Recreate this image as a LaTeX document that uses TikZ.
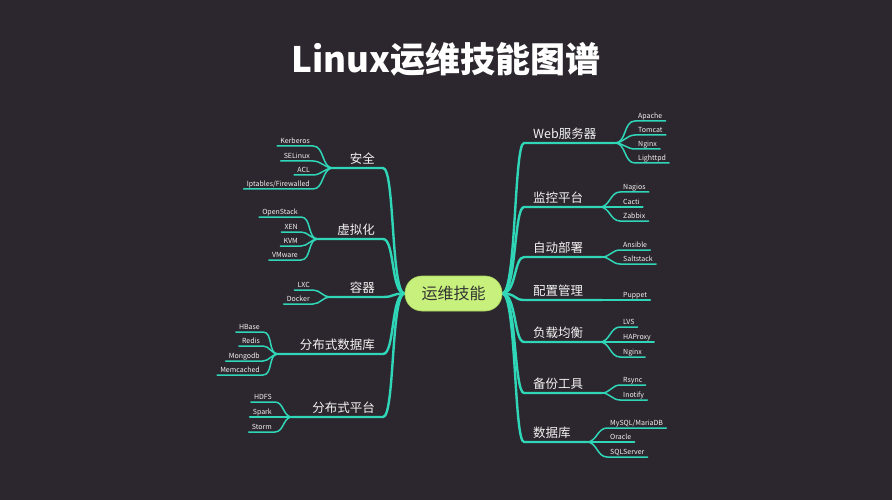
\documentclass[tikz,border=0pt]{standalone}
\usepackage{fontspec}
\setmainfont{Noto Sans CJK SC}
\definecolor{bgc}{HTML}{2C272E}
\definecolor{teal1}{HTML}{2FD6B8}
\definecolor{labelc}{HTML}{F2F2F2}
\definecolor{limec}{HTML}{C8F07C}
\definecolor{limed}{HTML}{A9D45E}
\definecolor{darkt}{HTML}{333333}
\pgfdeclarelayer{bg}
\pgfdeclarelayer{lines}
\pgfsetlayers{bg,lines,main}
\tikzset{
  mainline/.style={draw=teal1, line width=2.4pt, line cap=round},
  leafline/.style={draw=teal1, line width=1.5pt, line cap=round},
  lbl/.style={text=labelc, font=\fontsize{12.5}{14}\selectfont, inner xsep=0pt, inner ysep=2.5pt, text height=10.8pt, text depth=1.5pt},
  lblL/.style={lbl, anchor=south east},
  lblR/.style={lbl, anchor=south west},
  leaf/.style={text=labelc, font=\fontsize{7}{8}\selectfont, inner xsep=3pt, inner ysep=0.6pt, text height=5.2pt, text depth=1.6pt},
  leafL/.style={leaf, anchor=south east},
  leafR/.style={leaf, anchor=south west},
  hub/.style={fill=limec, draw=limed, line width=0.6pt, rounded corners=17pt, minimum width=97pt, minimum height=35pt, inner sep=0pt, text=darkt, font=\fontsize{16}{18}\selectfont},
  titlestyle/.style={text=white, font=\fontsize{35}{40}\selectfont\bfseries, inner sep=0pt},
}
\begin{document}
\begin{tikzpicture}[x=1pt,y=-1pt]
\useasboundingbox (0,0) rectangle (892,500);
\begin{pgfonlayer}{bg}
\fill[bgc] (0,0) rectangle (892,500);
\end{pgfonlayer}

\node[titlestyle] (title) at (446,59) {Linux运维技能图谱};
\node[hub] (c) at (453.5,293.5) {运维技能};

% ---------- left side ----------
% 安全
\coordinate (sA) at (333,168);
\coordinate (eA) at (383,168);
\node[lblL] (A) at (375,168) {安全};
\node[leafL] (A1) at (313,146) {Kerberos};
\node[leafL] (A2) at (313,161) {SELinux};
\node[leafL] (A3) at (313,175) {ACL};
\node[leafL] (A4) at (313,189) {Iptables/Firewalled};
% 虚拟化
\coordinate (sB) at (318,239);
\coordinate (eB) at (383,239);
\node[lblL] (B) at (375,239) {虚拟化};
\node[leafL] (B1) at (301,217) {OpenStack};
\node[leafL] (B2) at (301,232) {XEN};
\node[leafL] (B3) at (301,246) {KVM};
\node[leafL] (B4) at (301,260) {VMware};
% 容器
\coordinate (sC) at (330,297);
\coordinate (eC) at (383,297);
\node[lblL] (C) at (375,297) {容器};
\node[leafL] (C1) at (313,290) {LXC};
\node[leafL] (C2) at (313,304) {Docker};
% 分布式数据库
\coordinate (sD) at (278,354);
\coordinate (eD) at (383,354);
\node[lblL] (D) at (375,354) {分布式数据库};
\node[leafL] (D1) at (263,332) {HBase};
\node[leafL] (D2) at (263,346) {Redis};
\node[leafL] (D3) at (263,361) {Mongodb};
\node[leafL] (D4) at (263,375) {Memcached};
% 分布式平台
\coordinate (sE) at (292,417);
\coordinate (eE) at (383,417);
\node[lblL] (E) at (375,417) {分布式平台};
\node[leafL] (E1) at (275,402) {HDFS};
\node[leafL] (E2) at (275,417) {Spark};
\node[leafL] (E3) at (275,432) {Storm};

% ---------- right side ----------
% Web服务器
\coordinate (sF) at (615,143);
\coordinate (eF) at (524,143);
\node[lblR] (F) at (533,143) {Web服务器};
\node[leafR] (F1) at (635,121) {Apache};
\node[leafR] (F2) at (635,135) {Tomcat};
\node[leafR] (F3) at (635,149) {Nginx};
\node[leafR] (F4) at (635,163) {Lighttpd};
% 监控平台
\coordinate (sG) at (600,207);
\coordinate (eG) at (524,207);
\node[lblR] (G) at (533,207) {监控平台};
\node[leafR] (G1) at (620,192) {Nagios};
\node[leafR] (G2) at (620,207) {Cacti};
\node[leafR] (G3) at (620,221) {Zabbix};
% 自动部署
\coordinate (sH) at (602,257);
\coordinate (eH) at (524,257);
\node[lblR] (H) at (533,257) {自动部署};
\node[leafR] (H1) at (620,250) {Ansible};
\node[leafR] (H2) at (620,264) {Saltstack};
% 配置管理
\coordinate (sI) at (602,300);
\coordinate (eI) at (524,300);
\node[lblR] (I) at (533,300) {配置管理};
\node[leafR] (I1) at (620,300) {Puppet};
% 负载均衡
\coordinate (sJ) at (600,342);
\coordinate (eJ) at (524,342);
\node[lblR] (J) at (533,342) {负载均衡};
\node[leafR] (J1) at (620,327) {LVS};
\node[leafR] (J2) at (620,342) {HAProxy};
\node[leafR] (J3) at (620,357) {Nginx};
% 备份工具
\coordinate (sK) at (602,393);
\coordinate (eK) at (524,393);
\node[lblR] (K) at (533,393) {备份工具};
\node[leafR] (K1) at (620,385) {Rsync};
\node[leafR] (K2) at (620,400) {Inotify};
% 数据库
\coordinate (sL) at (587,442);
\coordinate (eL) at (524,442);
\node[lblR] (L) at (533,442) {数据库};
\node[leafR] (L1) at (607,428) {MySQL/MariaDB};
\node[leafR] (L2) at (607,442) {Oracle};
\node[leafR] (L3) at (607,457) {SQLServer};

\begin{pgfonlayer}{lines}
% left trunks
\foreach \e/\s in {eA/sA,eB/sB,eC/sC,eD/sD,eE/sE}{
  \draw[mainline] (c.west) .. controls +(-14,0) and +(12,0) .. (\e) -- (\s);
}
% right trunks
\foreach \e/\s in {eF/sF,eG/sG,eH/sH,eI/sI,eJ/sJ,eK/sK,eL/sL}{
  \draw[mainline] (c.east) .. controls +(14,0) and +(-10,0) .. (\e) -- (\s);
}
% left leaves
\foreach \s/\n in {sA/A1,sA/A2,sA/A3,sA/A4,sB/B1,sB/B2,sB/B3,sB/B4,sC/C1,sC/C2,sD/D1,sD/D2,sD/D3,sD/D4,sE/E1,sE/E2,sE/E3}{
  \draw[leafline] (\s) to[out=180,in=0] (\n.south east) -- (\n.south west);
}
% right leaves
\foreach \s/\n in {sF/F1,sF/F2,sF/F3,sF/F4,sG/G1,sG/G2,sG/G3,sH/H1,sH/H2,sI/I1,sJ/J1,sJ/J2,sJ/J3,sK/K1,sK/K2,sL/L1,sL/L2,sL/L3}{
  \draw[leafline] (\s) to[out=0,in=180] (\n.south west) -- (\n.south east);
}
\end{pgfonlayer}
\end{tikzpicture}
\end{document}
